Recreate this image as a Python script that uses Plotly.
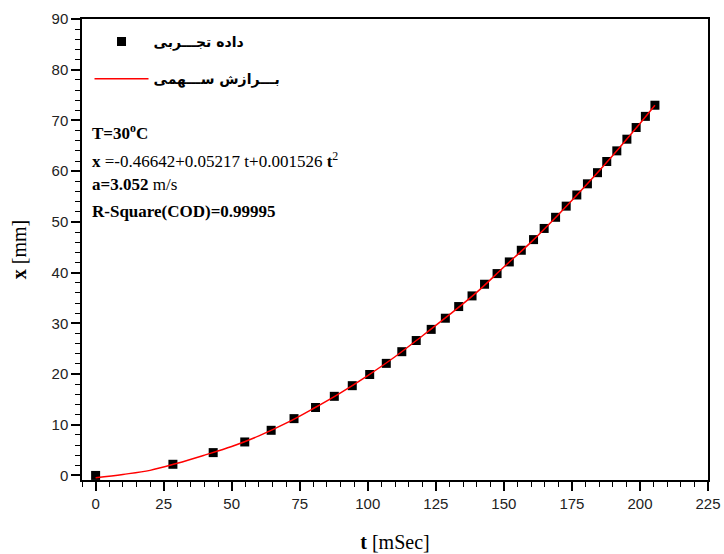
import plotly.graph_objects as go

t_data = [0, 28.4, 43.2, 54.8, 64.5, 72.9, 80.8, 87.7, 94.3, 100.7, 106.8, 112.5,
          117.8, 123.3, 128.5, 133.4, 138.3, 142.9, 147.5, 152.0, 156.4, 160.9,
          164.8, 169.0, 172.9, 176.8, 180.7, 184.4, 187.8, 191.5, 195.2, 198.6,
          202.0, 205.5]
x_data = [0, 2.2, 4.5, 6.6, 8.9, 11.2, 13.4, 15.6, 17.7, 19.9, 22.1, 24.4,
          26.6, 28.8, 31.0, 33.3, 35.4, 37.7, 39.8, 42.1, 44.4, 46.5,
          48.7, 50.9, 53.1, 55.3, 57.5, 59.7, 61.9, 64.0, 66.3, 68.6,
          70.8, 73.0]

# Parabolic fit curve
t_fit = [0, 10, 20, 30, 40, 50, 60, 70, 80, 90, 100, 110, 120, 130, 140, 150,
         160, 170, 180, 190, 200, 205.5]
x_fit = [-0.45, 0.2, 1.0, 2.4, 4.0, 5.7, 7.8, 10.3, 13.2, 16.3, 19.7, 23.4,
         27.5, 31.7, 36.1, 41.1, 46.0, 51.4, 57.1, 63.1, 69.4, 73.0]

x_ticks = [0, 25, 50, 75, 100, 125, 150, 175, 200, 225]
y_ticks = [0, 10, 20, 30, 40, 50, 60, 70, 80, 90]

name_data = "<b>داده تجـــربی</b>"
name_fit = "<b>بـــرازش ســـهمی</b>"

annot_lines = [
    "<b>T=30<sup>o</sup>C</b>",
    "<b>x</b> =-0.46642+0.05217 t+0.001526 <b>t</b><sup>2</sup>",
    "<b>a=3.052</b> m/s",
    "<b>R-Square(COD)=0.99995</b>",
]
annot_y = [0.754, 0.695, 0.640, 0.583]

fig = go.Figure()
fig.add_trace(go.Scatter(
    x=t_data, y=x_data, mode="markers", name=name_data, legendgroup="a",
    marker=dict(symbol="square", size=9, color="black"),
))
fig.add_trace(go.Scatter(
    x=t_fit, y=x_fit, mode="lines", name=name_fit, legendgroup="b",
    line=dict(color="red", width=1.5, shape="spline"),
))

serif = "Liberation Serif, Times New Roman, serif"
sans = "Liberation Sans, Arial, sans-serif"

for txt, yy in zip(annot_lines, annot_y):
    fig.add_annotation(text=txt, xref="paper", yref="paper", x=0.012, y=yy,
                       xanchor="left", yanchor="middle", showarrow=False,
                       font=dict(family=serif, size=17, color="black"))

fig.update_layout(
    width=724, height=554,
    margin=dict(l=82, r=16, t=19, b=74),
    paper_bgcolor="white", plot_bgcolor="white",
    showlegend=True,
    legend=dict(x=0.012, y=0.985, xanchor="left", yanchor="top",
                bgcolor="rgba(0,0,0,0)", traceorder="grouped",
                tracegroupgap=16, itemwidth=54,
                font=dict(family="DejaVu Sans", size=14, color="black"),
                itemclick=False),
    xaxis=dict(
        range=[-5, 225], tickvals=x_ticks, ticks="outside", ticklen=9,
        tickwidth=1.5, tickcolor="black", automargin=False,
        minor=dict(dtick=5, ticks="outside", ticklen=5, tickwidth=1.2, tickcolor="black"),
        showline=True, linecolor="black", linewidth=1.5, mirror=True,
        showgrid=False, zeroline=False,
        tickfont=dict(family=sans, size=15, color="#222"),
        title=dict(text="<b>t</b> [mSec]", font=dict(family=serif, size=20, color="black"),
                   standoff=24),
    ),
    yaxis=dict(
        range=[-0.9, 90], tickvals=y_ticks, ticks="outside", ticklen=9,
        tickwidth=1.5, tickcolor="black", automargin=False,
        minor=dict(dtick=2, ticks="outside", ticklen=5, tickwidth=1.2, tickcolor="black"),
        showline=True, linecolor="black", linewidth=1.5, mirror=True,
        showgrid=False, zeroline=False,
        tickfont=dict(family=sans, size=15, color="#222"),
        title=dict(text="<b>x</b> [mm]", font=dict(family=serif, size=20, color="black"),
                   standoff=20),
    ),
)

fig.write_html("out.html")
